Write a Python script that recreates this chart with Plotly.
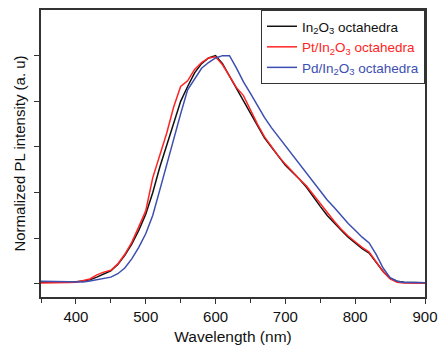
import plotly.graph_objects as go

wavelength = [350, 360, 370, 380, 390, 400, 410, 420, 430, 440, 450, 460, 470, 480, 490,
              500, 510, 520, 530, 540, 550, 560, 570, 580, 590, 600, 610, 620, 630, 640,
              650, 660, 670, 680, 690, 700, 710, 720, 730, 740, 750, 760, 770, 780, 790,
              800, 810, 820, 830, 840, 850, 860, 870, 880, 890, 900]

in2o3 = [0.008, 0.008, 0.008, 0.008, 0.009, 0.010, 0.013, 0.018, 0.030, 0.045, 0.058, 0.085, 0.125, 0.175, 0.235,
         0.305, 0.400, 0.510, 0.610, 0.710, 0.800, 0.865, 0.925, 0.965, 0.990, 1.000, 0.965, 0.910, 0.855, 0.800,
         0.745, 0.690, 0.640, 0.600, 0.560, 0.520, 0.490, 0.460, 0.425, 0.380, 0.340, 0.300, 0.265, 0.235, 0.205,
         0.180, 0.155, 0.135, 0.095, 0.055, 0.025, 0.012, 0.008, 0.006, 0.005, 0.005]

pt_in2o3 = [0.004, 0.004, 0.004, 0.005, 0.006, 0.008, 0.014, 0.022, 0.040, 0.052, 0.060, 0.088, 0.130, 0.182, 0.250,
            0.320, 0.465, 0.565, 0.660, 0.775, 0.865, 0.890, 0.940, 0.970, 0.990, 0.995, 0.960, 0.910, 0.860, 0.825,
            0.760, 0.700, 0.645, 0.600, 0.560, 0.525, 0.490, 0.460, 0.430, 0.390, 0.350, 0.310, 0.275, 0.240, 0.210,
            0.185, 0.160, 0.140, 0.100, 0.055, 0.022, 0.008, 0.004, 0.003, 0.003, 0.003]

pd_in2o3 = [0.012, 0.011, 0.011, 0.010, 0.010, 0.008, 0.009, 0.013, 0.018, 0.024, 0.030, 0.045, 0.070, 0.110, 0.160,
            0.220, 0.300, 0.410, 0.525, 0.640, 0.745, 0.850, 0.900, 0.945, 0.970, 0.990, 1.000, 1.000, 0.945, 0.885,
            0.835, 0.780, 0.730, 0.685, 0.645, 0.605, 0.565, 0.525, 0.485, 0.445, 0.405, 0.368, 0.335, 0.300, 0.265,
            0.235, 0.205, 0.180, 0.130, 0.070, 0.028, 0.012, 0.007, 0.006, 0.005, 0.005]

x_ticks = [400, 500, 600, 700, 800, 900]
y_ticks = [0, 0.2, 0.4, 0.6, 0.8, 1.0]

series = [
    ("In<sub>2</sub>O<sub>3</sub> octahedra", in2o3, "#111111"),
    ("Pt/In<sub>2</sub>O<sub>3</sub> octahedra", pt_in2o3, "#ff2424"),
    ("Pd/In<sub>2</sub>O<sub>3</sub> octahedra", pd_in2o3, "#3c4fb0"),
]

fig = go.Figure()
for name, vals, color in series:
    fig.add_trace(go.Scatter(
        x=wavelength, y=vals, mode="lines",
        line=dict(color=color, width=1.5),
        name='<span style="color:%s">%s</span>' % (color, name),
    ))

axis_color = "#333333"
fig.update_layout(
    width=438, height=348,
    margin=dict(l=41, r=13, t=10, b=51),
    paper_bgcolor="white", plot_bgcolor="white",
    font=dict(family="Liberation Sans, Arial, sans-serif", color="#111111"),
    showlegend=True,
    legend=dict(
        x=1, y=1, xanchor="right", yanchor="top",
        bordercolor=axis_color, borderwidth=1, bgcolor="white",
        font=dict(size=13.5), itemwidth=30, tracegroupgap=0,
    ),
    xaxis=dict(
        range=[350, 900], tickvals=x_ticks, ticks="outside", ticklen=5,
        tickwidth=1, tickcolor=axis_color, automargin=False,
        minor=dict(dtick=50, ticks="outside", ticklen=4, tickcolor=axis_color),
        showline=True, linecolor=axis_color, linewidth=1.5, mirror=True,
        showgrid=False, zeroline=False,
        tickfont=dict(size=15),
        title=dict(text="Wavelength (nm)", font=dict(size=15.5), standoff=7),
    ),
    yaxis=dict(
        range=[-0.057, 1.2], tickvals=y_ticks, ticks="outside", ticklen=5,
        tickwidth=1, tickcolor=axis_color, showticklabels=False, automargin=False,
        showline=True, linecolor=axis_color, linewidth=1.5, mirror=True,
        showgrid=False, zeroline=False,
        title=dict(text="Normalized PL intensity (a. u)", font=dict(size=15), standoff=5),
    ),
)

fig.write_html("out.html", config={"displayModeBar": False},
               post_script="document.body.style.margin='0';document.body.style.overflow='hidden';")
